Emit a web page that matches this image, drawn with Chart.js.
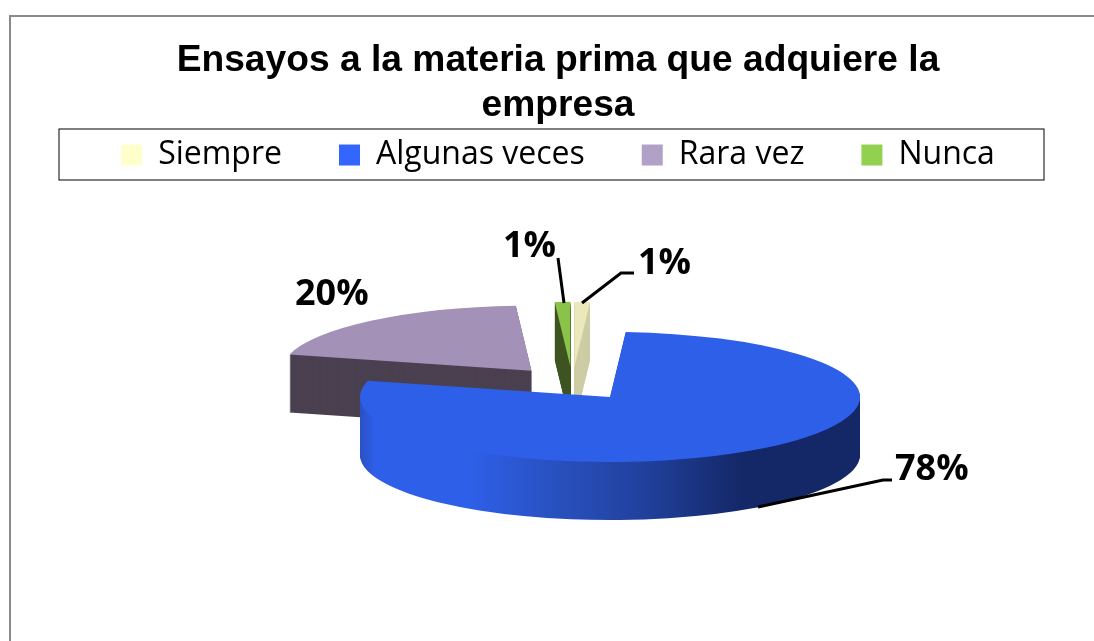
<!DOCTYPE html>
<html>
<head>
<meta charset="utf-8">
<title>Ensayos a la materia prima</title>
<script src="https://cdn.jsdelivr.net/npm/chart.js@4/dist/chart.umd.min.js"></script>
<style>
  html, body { margin: 0; padding: 0; background: #fff; overflow: hidden; }
  canvas { display: block; }
</style>
</head>
<body>
<canvas id="grafico" width="1094" height="641"></canvas>
<script>
const categorias = ["Siempre", "Algunas veces", "Rara vez", "Nunca"];
const valores = [1, 78, 20, 1];
const coloresLeyenda = ["#ffffcc", "#3366ff", "#b2a1c7", "#92d050"];
const coloresTapa = ["#ebe9bc", "#2e5fe8", "#a391b8", "#8ac24a"];
const coloresLado = ["#cdcca5", null, "#4a4050", "#3f5520"];

// geometria del pastel 3D (el pastel de Chart.js se aplasta con una transformacion)
const centroX = 572.4, centroY = 383.5;
const radio = 250, aplastado = 0.26, separacion = 64, grosor = 58;
const ordenDibujo = [2, 3, 0, 1]; // de atras hacia adelante

// etiquetas con su linea guia, en el mismo orden que categorias
const etiquetas = [
  { x: 638, y: 274, guia: [[582, 303], [621, 273], [634, 273]] },
  { x: 895, y: 480, guia: [[758, 507], [883, 480], [892, 480]] },
  { x: 295, y: 305, guia: null },
  { x: 503, y: 257, guia: [[558, 258], [564, 303]] }
];

function dibujarPorcion(ctx, arc, color, dy) {
  const medio = (arc.startAngle + arc.endAngle) / 2;
  const original = arc.options;
  ctx.save();
  ctx.translate(centroX, centroY + dy);
  ctx.scale(1, aplastado);
  ctx.translate(Math.cos(medio) * separacion - arc.x, Math.sin(medio) * separacion - arc.y);
  let relleno = color;
  if (!relleno) {
    // pared de la porcion grande: degradado horizontal
    relleno = ctx.createLinearGradient(arc.x - radio, 0, arc.x + radio, 0);
    relleno.addColorStop(0, "#2a50c4");
    relleno.addColorStop(0.03, "#2e5fe8");
    relleno.addColorStop(0.22, "#2e5fe8");
    relleno.addColorStop(0.4, "#2850bd");
    relleno.addColorStop(0.58, "#203f9a");
    relleno.addColorStop(0.77, "#142766");
    relleno.addColorStop(1, "#142766");
  }
  arc.options = Object.create(original, { backgroundColor: { value: relleno } });
  arc.draw(ctx);
  arc.options = original;
  ctx.restore();
}

const pastel3D = {
  id: "pastel3D",
  beforeDraw(chart) {
    const ctx = chart.ctx;
    // marco exterior gris
    ctx.save();
    ctx.strokeStyle = "#8a8a8a";
    ctx.lineWidth = 2;
    ctx.beginPath();
    ctx.moveTo(10, 641);
    ctx.lineTo(10, 16);
    ctx.lineTo(1094, 16);
    ctx.stroke();
    ctx.restore();
  },
  beforeDatasetsDraw(chart) {
    const ctx = chart.ctx;
    const arcos = chart.getDatasetMeta(0).data;
    ordenDibujo.forEach(i => {
      for (let d = grosor; d >= 1; d--) dibujarPorcion(ctx, arcos[i], coloresLado[i], d);
      dibujarPorcion(ctx, arcos[i], coloresTapa[i], 0);
    });
    return false;
  },
  afterDraw(chart) {
    const ctx = chart.ctx;
    const total = valores.reduce((a, b) => a + b, 0);
    ctx.save();
    // recuadro de la leyenda
    ctx.strokeStyle = "#000";
    ctx.lineWidth = 1;
    ctx.strokeRect(59, 129, 985, 51);
    // lineas guia y porcentajes
    ctx.lineWidth = 3;
    ctx.fillStyle = "#000";
    ctx.font = "bold 36px 'Open Sans'";
    ctx.textBaseline = "alphabetic";
    etiquetas.forEach((e, i) => {
      if (e.guia) {
        ctx.beginPath();
        e.guia.forEach(([x, y], j) => j ? ctx.lineTo(x, y) : ctx.moveTo(x, y));
        ctx.stroke();
      }
      ctx.fillText(Math.round(valores[i] / total * 100) + "%", e.x, e.y);
    });
    ctx.restore();
  }
};

new Chart(document.getElementById("grafico"), {
  type: "pie",
  data: {
    labels: categorias,
    datasets: [{
      data: valores,
      backgroundColor: coloresLeyenda,
      borderWidth: 0,
      radius: radio
    }]
  },
  options: {
    responsive: false,
    animation: false,
    layout: { padding: { left: 22 } },
    plugins: {
      tooltip: { enabled: false },
      title: {
        display: true,
        text: ["Ensayos a la materia prima que adquiere la", "empresa"],
        color: "#000",
        font: { family: "'Liberation Sans'", size: 37.2, weight: "bold", lineHeight: 1.21 },
        // padding negativo: la leyenda usa el mismo padding arriba y entre items
        padding: { top: 38, bottom: -46 }
      },
      legend: {
        position: "top",
        labels: {
          color: "#000",
          font: { family: "'Open Sans'", size: 32 },
          boxWidth: 21,
          boxHeight: 21,
          padding: 57
        }
      }
    }
  },
  plugins: [pastel3D]
});
</script>
</body>
</html>
